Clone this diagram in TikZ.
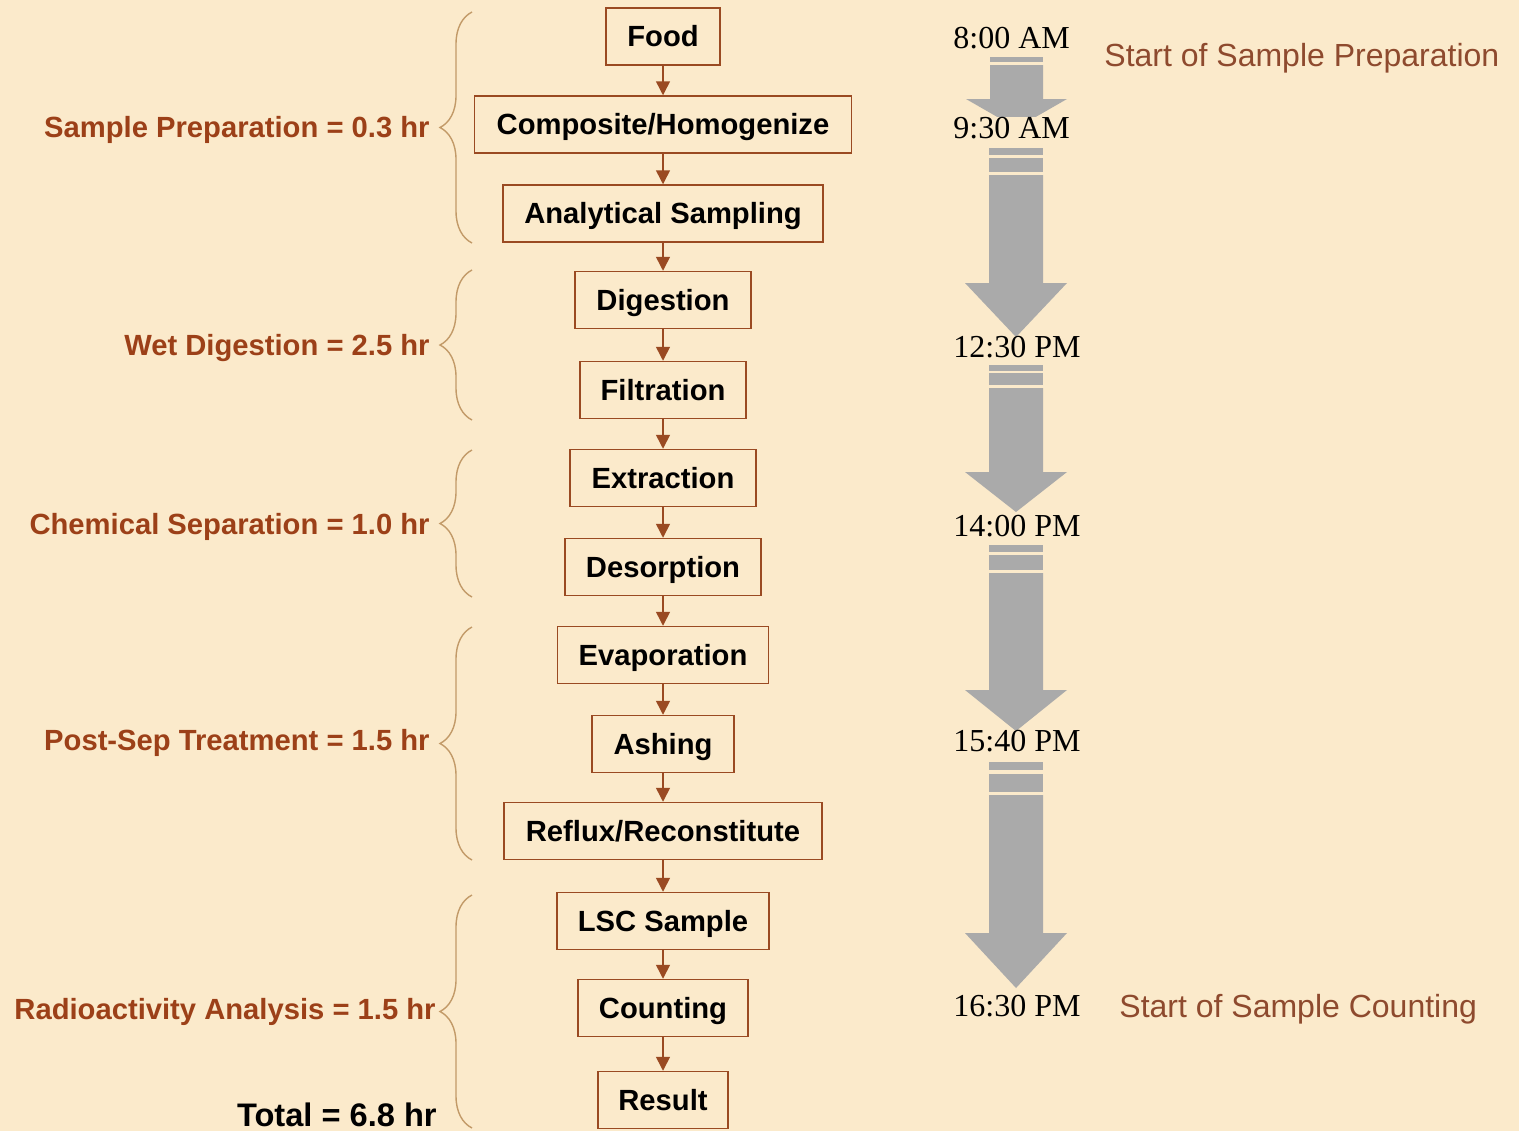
\documentclass[tikz,border=0pt]{standalone}
\usepackage{fontspec}
\setmainfont{Liberation Sans}
\newfontfamily\timesf{Liberation Serif}
\usetikzlibrary{arrows.meta,decorations.pathreplacing}
\definecolor{bg}{HTML}{FBEACB}
\definecolor{boxbrown}{HTML}{9A4A22}
\definecolor{labbrown}{HTML}{9C4018}
\definecolor{startbrown}{HTML}{8E4A2E}
\definecolor{bracetan}{HTML}{C29A68}
\definecolor{arrgray}{HTML}{AAAAAA}
\begin{document}
\begin{tikzpicture}[x=0.5pt,y=-0.5pt,
  stepbox/.style={draw=boxbrown, line width=0.75pt, minimum height=28.5pt, inner sep=0pt,
    text height=10.5pt, text depth=0.5pt,
    font=\fontsize{14.6}{17}\selectfont\bfseries, text=black},
  flow/.style={draw=boxbrown, line width=0.75pt, -{Triangle[width=7pt,length=7pt]}},
  phase/.style={font=\fontsize{14.6}{17}\selectfont\bfseries, text=labbrown, inner sep=0pt,
    text height=10.5pt, text depth=0pt, anchor=east},
  clock/.style={font=\timesf\fontsize{16}{19}\selectfont, text=black, inner sep=0pt,
    text height=10.8pt, text depth=0pt, anchor=west, fill=bg},
  note/.style={font=\fontsize{16}{19}\selectfont, text=startbrown, inner sep=0pt,
    text height=11.4pt, text depth=0pt, anchor=west},
  phasebrace/.style={draw=bracetan, line width=0.7pt, decorate, decoration={brace, amplitude=16pt}},
  timebar/.style={fill=arrgray}
]
\fill[bg] (0,0) rectangle (1519,1131);
\useasboundingbox (0,0) rectangle (1519,1131);

% flow boxes
\node[stepbox, minimum width=57pt]    (food)  at (663,36.5)  {Food};
\node[stepbox, minimum width=188.5pt] (comp)  at (663,124.5) {Composite/Homogenize};
\node[stepbox, minimum width=160pt]   (samp)  at (663,213.5) {Analytical Sampling};
\node[stepbox, minimum width=88pt]    (dig)   at (663,300)   {Digestion};
\node[stepbox, minimum width=83pt]    (filt)  at (663,390)   {Filtration};
\node[stepbox, minimum width=93pt]    (extr)  at (663,478)   {Extraction};
\node[stepbox, minimum width=98pt]    (deso)  at (663,567)   {Desorption};
\node[stepbox, minimum width=105.5pt] (evap)  at (663,655)   {Evaporation};
\node[stepbox, minimum width=71pt]    (ash)   at (663,744)   {Ashing};
\node[stepbox, minimum width=159pt]   (refl)  at (663,831)   {Reflux/Reconstitute};
\node[stepbox, minimum width=106pt]   (lsc)   at (663,921)   {LSC Sample};
\node[stepbox, minimum width=85pt]    (count) at (663,1008)  {Counting};
\node[stepbox, minimum width=65pt]    (res)   at (663,1100)  {Result};

\draw[flow] (food) -- (comp);
\draw[flow] (comp) -- (samp);
\draw[flow] (samp) -- (dig);
\draw[flow] (dig) -- (filt);
\draw[flow] (filt) -- (extr);
\draw[flow] (extr) -- (deso);
\draw[flow] (deso) -- (evap);
\draw[flow] (evap) -- (ash);
\draw[flow] (ash) -- (refl);
\draw[flow] (refl) -- (lsc);
\draw[flow] (lsc) -- (count);
\draw[flow] (count) -- (res);

% braces
\draw[phasebrace] (472,243) -- (472,12);
\draw[phasebrace] (472,420) -- (472,270);
\draw[phasebrace] (472,597) -- (472,450);
\draw[phasebrace] (472,860) -- (472,627);
\draw[phasebrace] (472,1128) -- (472,895);

% phase labels
\node[phase] (p1) at (430,127) {Sample Preparation = 0.3 hr};
\node[phase] (p2) at (430,345) {Wet Digestion = 2.5 hr};
\node[phase] (p3) at (430,524) {Chemical Separation = 1.0 hr};
\node[phase] (p4) at (430,740) {Post-Sep Treatment = 1.5 hr};
\node[phase] (p5) at (436,1009) {Radioactivity Analysis = 1.5 hr};
\node[phase, text=black, anchor=base east, font=\fontsize{16.3}{19}\selectfont\bfseries] (tot) at (437,1126) {Total = 6.8 hr};

% gray time arrows
\fill[timebar] (990,57) rectangle (1043,62);
\fill[timebar] (990,65) -- (1043,65) -- (1043,99) -- (1067,99) -- (1016.5,128) -- (966,99) -- (990,99) -- cycle;

\fill[timebar] (989,148) rectangle (1043,155);
\fill[timebar] (989,158) rectangle (1043,172);
\fill[timebar] (989,175) -- (1043,175) -- (1043,283) -- (1067,283) -- (1016,337) -- (965,283) -- (989,283) -- cycle;

\fill[timebar] (989,365) rectangle (1043,371);
\fill[timebar] (989,373) rectangle (1043,385);
\fill[timebar] (989,388) -- (1043,388) -- (1043,472) -- (1067,472) -- (1016,512) -- (965,472) -- (989,472) -- cycle;

\fill[timebar] (989,545) rectangle (1043,552);
\fill[timebar] (989,555) rectangle (1043,570);
\fill[timebar] (989,573) -- (1043,573) -- (1043,690) -- (1067,690) -- (1016,731) -- (965,690) -- (989,690) -- cycle;

\fill[timebar] (989,762) rectangle (1043,770);
\fill[timebar] (989,774) rectangle (1043,792);
\fill[timebar] (989,795) -- (1043,795) -- (1043,933) -- (1067,933) -- (1016,988) -- (965,933) -- (989,933) -- cycle;

% times
\node[clock] (t1) at (953,38)   {8:00 AM};
\node[clock] (t2) at (953,128)  {9:30 AM};
\node[clock] (t3) at (953,347)  {12:30 PM};
\node[clock] (t4) at (953,526)  {14:00 PM};
\node[clock] (t5) at (953,741)  {15:40 PM};
\node[clock] (t6) at (953,1006) {16:30 PM};

\node[note] (n1) at (1104,55)   {Start of Sample Preparation};
\node[note] (n2) at (1119,1006) {Start of Sample Counting};
\end{tikzpicture}
\end{document}
